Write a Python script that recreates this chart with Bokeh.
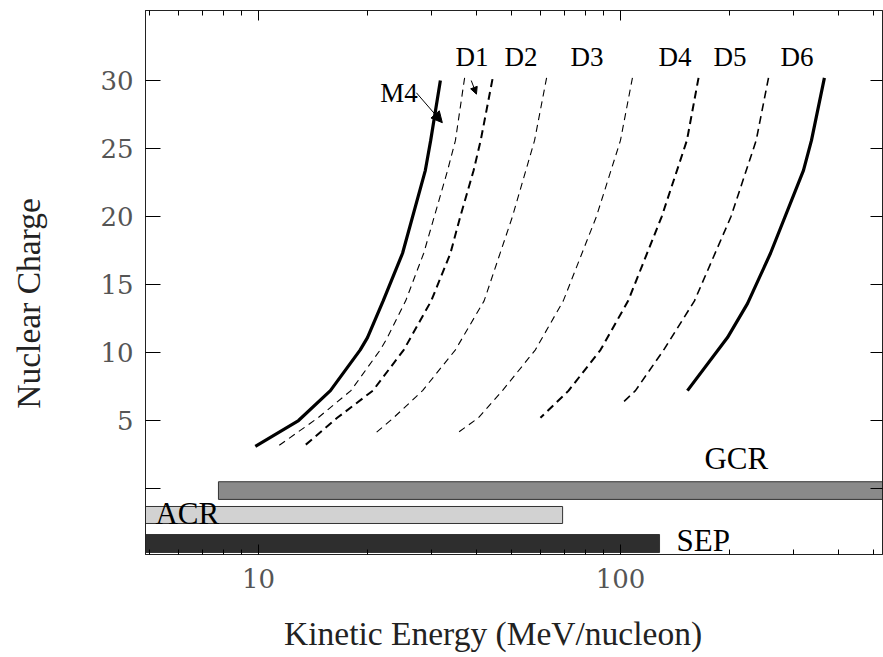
from bokeh.plotting import figure
from bokeh.models import (Range1d, FixedTicker, LinearAxis, LogAxis, Arrow,
                          NormalHead, BasicTickFormatter, ColumnDataSource)
from bokeh.core.properties import value
from bokeh.embed import file_html
from bokeh.resources import INLINE

# ---------------- data ----------------
# Curves: nuclear charge Z vs kinetic energy (MeV/nucleon)
m4_z = [30, 25.6, 23.4, 17.3, 13.8, 11.1, 10.2, 7.2, 5.0, 3.1]
m4_e = [31.8, 29.9, 28.9, 25.0, 22.1, 20.0, 19.1, 15.8, 12.9, 9.8]

c1_z = [30.2, 25.6, 23.4, 20.0, 17.3, 13.8, 11.1, 10.2, 7.2, 5.2, 3.1]
c1_e = [37.1, 35.0, 33.3, 30.6, 28.6, 25.5, 22.7, 21.7, 18.0, 14.6, 11.3]

c2_z = [30.1, 25.6, 23.4, 20.0, 17.3, 13.8, 10.2, 7.2, 5.2, 3.0]
c2_e = [44.3, 41.1, 39.3, 36.1, 33.9, 30.0, 25.2, 20.7, 16.5, 13.2]

c3_z = [30.2, 25.6, 20.0, 13.8, 10.2, 7.2, 5.2, 4.1]
c3_e = [62.5, 57.9, 50.3, 42.0, 35.0, 28.4, 23.6, 21.1]

c4_z = [30.2, 25.6, 20.0, 13.8, 10.2, 7.2, 5.2, 4.1]
c4_e = [107.9, 100.0, 85.8, 69.5, 58.2, 47.2, 40.5, 35.5]

c5_z = [30.2, 25.6, 20.0, 13.8, 10.2, 7.2, 5.2]
c5_e = [164.3, 152.6, 130.0, 105.0, 88.1, 71.9, 60.1]

c6_z = [30.2, 25.6, 20.0, 13.8, 10.2, 7.2, 6.15]
c6_e = [256.4, 237.1, 202.0, 160.1, 131.7, 110.0, 100.0]

c7_z = [30.2, 25.6, 23.4, 17.3, 13.6, 11.1, 7.2]
c7_e = [365.9, 337.0, 320.3, 259.7, 224.3, 197.5, 153.1]

# Energy bands (left, right in MeV/nucleon; bottom, top in Z units)
band_names = ["GCR", "ACR", "SEP"]
band_left = [7.75, 1.0, 1.0]
band_right = [3000.0, 69.2, 128.2]
band_bottom = [-0.8, -2.57, -4.7]
band_top = [0.5, -1.32, -3.38]
band_colors = ["#8a8a8a", "#d2d2d2", "#2e2e2e"]

# curve labels
lab_text = ["M4", "D1", "D2", "D3", "D4", "D5", "D6"]
lab_x = [21.7, 35.0, 47.8, 72.8, 127.4, 180.7, 276.6]
lab_y = [29.1, 31.7, 31.7, 31.7, 31.7, 31.7, 31.7]

band_lab_x = [170.6, 5.19, 142.8]
band_lab_y = [2.2, -1.8, -3.85]

x_ticks = [10, 100]
x_minor = [5, 6, 7, 8, 9, 20, 30, 40, 50, 60, 70, 80, 90, 200, 300, 400, 500]
y_ticks = [5, 10, 15, 20, 25, 30]
y_minor = [0]
y_right_ticks = [0, 5, 10, 15, 20, 25, 30]

NB = "\u00a0"

# ---------------- figure ----------------
p = figure(frame_width=737, frame_height=544,
           x_axis_type="log",
           x_range=Range1d(4.873, 529.5), y_range=Range1d(-4.85, 35.15),
           output_backend="svg", toolbar_location=None,
           min_border_left=145, min_border_right=1,
           min_border_top=10, min_border_bottom=103)
p.background_fill_color = "white"
p.border_fill_color = "white"
p.outline_line_color = "#222222"
p.outline_line_width = 1
p.xgrid.visible = False
p.ygrid.visible = False

tick_font = "DejaVu Serif"
serif = "Liberation Serif"

# bottom axis
xa = p.xaxis[0]
xa.ticker = FixedTicker(ticks=x_ticks, minor_ticks=x_minor)
xa.formatter = BasicTickFormatter()
xa.major_tick_in = 10
xa.major_tick_out = 0
xa.minor_tick_in = 5
xa.minor_tick_out = 0
xa.major_label_standoff = 14
xa.major_label_text_font = tick_font
xa.major_label_text_font_size = "26px"
xa.major_label_text_color = "#555555"
xa.axis_line_color = "#222222"
xa.axis_label = "Kinetic Energy (MeV/nucleon)" + NB * 5
xa.axis_label_text_font = serif
xa.axis_label_text_font_size = "33.5px"
xa.axis_label_text_font_style = "normal"
xa.axis_label_text_color = "#222222"
xa.axis_label_standoff = 24

# left axis
ya = p.yaxis[0]
ya.ticker = FixedTicker(ticks=y_ticks, minor_ticks=y_minor)
ya.major_tick_in = 15
ya.major_tick_out = 0
ya.minor_tick_in = 15
ya.minor_tick_out = 0
ya.major_label_standoff = 12
ya.major_label_text_font = tick_font
ya.major_label_text_font_size = "26px"
ya.major_label_text_color = "#555555"
ya.axis_line_color = "#222222"
ya.axis_label = "Nuclear Charge" + NB * 5
ya.axis_label_text_font = serif
ya.axis_label_text_font_size = "33.5px"
ya.axis_label_text_font_style = "normal"
ya.axis_label_text_color = "#222222"
ya.axis_label_standoff = 50

# right & top axes (ticks only)
ra = LinearAxis(ticker=FixedTicker(ticks=y_right_ticks, minor_ticks=[]),
                major_tick_in=12, major_tick_out=0, minor_tick_in=0, minor_tick_out=0,
                major_label_text_font_size="1px", major_label_text_alpha=0,
                major_label_standoff=0, axis_line_color="#222222")
p.add_layout(ra, "right")
ta = LogAxis(ticker=FixedTicker(ticks=x_ticks, minor_ticks=x_minor),
             major_tick_in=10, major_tick_out=0, minor_tick_in=5, minor_tick_out=0,
             major_label_text_font_size="1px", major_label_text_alpha=0,
             major_label_standoff=0, axis_line_color="#222222")
p.add_layout(ta, "above")

# ---------------- bands ----------------
src_b = ColumnDataSource(dict(left=band_left, right=band_right, bottom=band_bottom,
                              top=band_top, color=band_colors))
p.quad(left="left", right="right", bottom="bottom", top="top", source=src_b,
       fill_color="color", line_color="#333333", line_width=1)

# ---------------- curves ----------------
p.line(m4_e, m4_z, line_color="black", line_width=3.2)
p.line(c1_e, c1_z, line_color="black", line_width=1.1, line_dash="7 5")
p.line(c2_e, c2_z, line_color="black", line_width=2.0, line_dash="8 5")
p.line(c3_e, c3_z, line_color="black", line_width=1.1, line_dash="7 5")
p.line(c4_e, c4_z, line_color="black", line_width=1.1, line_dash="7 5")
p.line(c5_e, c5_z, line_color="black", line_width=2.0, line_dash="8 5")
p.line(c6_e, c6_z, line_color="black", line_width=1.6, line_dash="8 5")
p.line(c7_e, c7_z, line_color="black", line_width=3.2)

# ---------------- labels ----------------
p.text(x=lab_x, y=lab_y, text=lab_text, text_font=value(serif),
       text_font_size="27px", text_color="black", text_align="left",
       text_baseline="alphabetic")
p.text(x=band_lab_x, y=band_lab_y, text=band_names, text_font=value(serif),
       text_font_size="31px", text_color="black", text_align="left",
       text_baseline="alphabetic")

# arrows
p.add_layout(Arrow(end=NormalHead(size=11, fill_color="black", line_color="black"),
                   x_start=27.3, y_start=29.1, x_end=32.2, y_end=26.9,
                   line_color="black", line_width=1))
p.add_layout(Arrow(end=NormalHead(size=7, fill_color="black", line_color="black"),
                   x_start=38.7, y_start=30.0, x_end=40.0, y_end=29.0,
                   line_color="black", line_width=1))

open("out.html", "w").write(file_html(p, INLINE))
